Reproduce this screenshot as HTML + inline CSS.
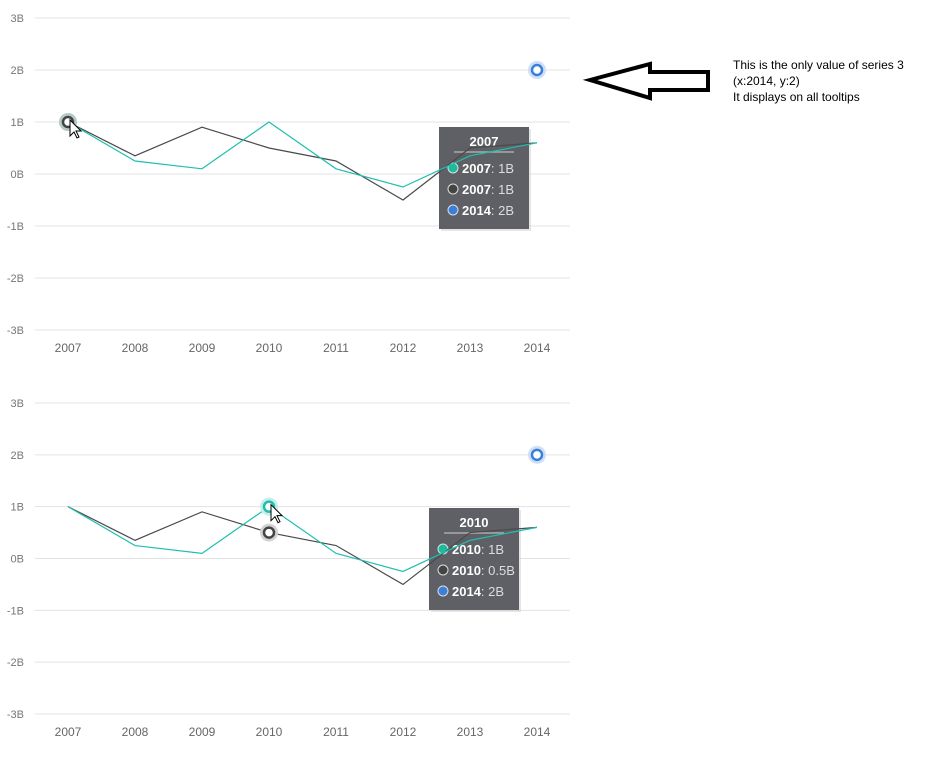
<!DOCTYPE html>
<html><head><meta charset="utf-8"><style>
body{margin:0;background:#fff;width:951px;height:767px;overflow:hidden;font-family:"Liberation Sans",sans-serif}
svg{position:absolute;left:0;top:0}
</style></head><body>
<svg id="s" width="951" height="767"></svg>
<script>
const years=[2007,2008,2009,2010,2011,2012,2013,2014];
const series1=[1,0.25,0.1,1,0.1,-0.25,0.35,0.6];
const series2=[1,0.35,0.9,0.5,0.25,-0.5,0.5,0.6];
const series3Year=2014, series3Val=2;
const ticks=[3,2,1,0,-1,-2,-3];
const tickLabels=['3B','2B','1B','0B','-1B','-2B','-3B'];
const NS='http://www.w3.org/2000/svg';
const s=document.getElementById('s');
function el(t,a,p){const e=document.createElementNS(NS,t);for(const k in a)e.setAttribute(k,a[k]);(p||s).appendChild(e);return e;}
const charts=[
 {top:18,bottom:330,xlab:347,hover:0,tip:{x:439,y:127,title:'2007',rows:[['#1abc9c','2007','1B'],['#444','2007','1B'],['#3a7fd8','2014','2B']]}},
 {top:403,bottom:714,xlab:731,hover:3,tip:{x:429,y:508,title:'2010',rows:[['#1abc9c','2010','1B'],['#444','2010','0.5B'],['#3a7fd8','2014','2B']]}}
];
charts.forEach((c,ci)=>{
 const g=el('g',{});
 
 
 const X=i=>68+i*67;
 const Xy=yr=>X(years.indexOf(yr));
 const Y=v=>c.top+(3-v)*(c.bottom-c.top)/6;
 ticks.forEach((t,i)=>{
  const l=el('line',{x1:35,x2:570,y1:Y(t),y2:Y(t),stroke:'#e3e3e3','stroke-width':1},g);
  
  
  const tx=el('text',{x:24,y:Y(t)+4,'text-anchor':'end','font-size':11,fill:'#777'},g);
  tx.textContent=tickLabels[i];
  
  
 });
 years.forEach((yr,i)=>{
  const tx=el('text',{x:X(i),y:c.xlab+5,'text-anchor':'middle','font-size':12,fill:'#666'},g);
  tx.textContent=yr;
  
  
 });
 // tooltip
 const t=c.tip;
 const tg=el('g',{},g);
 
 
 el('rect',{x:t.x+2,y:t.y+2,width:90,height:102,fill:'#ccc',opacity:0.5},tg);
 el('rect',{x:t.x,y:t.y,width:90,height:102,fill:'#5f5f66'},tg);
 const tt=el('text',{x:t.x+45,y:t.y+19,'text-anchor':'middle','font-size':13,'font-weight':'bold',fill:'#fff'},tg);
 tt.textContent=t.title;
 el('line',{x1:t.x+15,x2:t.x+75,y1:t.y+25,y2:t.y+25,stroke:'#aaa','stroke-width':1.5},tg);
 t.rows.forEach((r,i)=>{
  const cy=t.y+41+i*21;
  el('circle',{cx:t.x+14,cy:cy,r:5,fill:r[0],stroke:'#ddd','stroke-width':1},tg);
  const rt=el('text',{x:t.x+23,y:cy+5,'font-size':13,fill:'#fff'},tg);
  rt.innerHTML='<tspan font-weight="bold">'+r[1]+'</tspan><tspan fill="#ddd">: '+r[2]+'</tspan>';
 });
 // lines
 const mk=(data,col,name)=>{
  const p=el('polyline',{points:data.map((v,i)=>X(i)+','+Y(v)).join(' '),fill:'none',stroke:col,'stroke-width':1.2},g);
  
  
 };
 mk(series2,'#4a4a4a','series-2-line');
 mk(series1,'#1fbfb0','series-1-line');
 // series 3 point
 const p3x=Xy(series3Year),p3y=Y(series3Val);
 el('circle',{cx:p3x,cy:p3y,r:9,fill:'#cfe0f6'},g);
 const p3=el('circle',{cx:p3x,cy:p3y,r:5,fill:'#fff',stroke:'#3a7fd8','stroke-width':2.5},g);
 
 
 // hover markers
 const h=c.hover;
 if(ci===0){
  el('circle',{cx:X(h),cy:Y(series2[h]),r:9,fill:'#b5c9c6'},g);
  const m=el('circle',{cx:X(h),cy:Y(series2[h]),r:5,fill:'#fff',stroke:'#444','stroke-width':2.5},g);
  
  
 } else {
  el('circle',{cx:X(h),cy:Y(series1[h]),r:9,fill:'#c5eee9'},g);
  const m1=el('circle',{cx:X(h),cy:Y(series1[h]),r:5,fill:'#fff',stroke:'#1fbfb0','stroke-width':2.5},g);
  
  
  el('circle',{cx:X(h),cy:Y(series2[h]),r:9,fill:'#d2d2d2'},g);
  const m2=el('circle',{cx:X(h),cy:Y(series2[h]),r:5,fill:'#fff',stroke:'#444','stroke-width':2.5},g);
  
  
 }
 // cursor
 const cx=X(h)+2,cy=Y(series1[h])-2;
 const cur=el('path',{d:`M${cx} ${cy} l0 16 l4 -4 l3 6 l2 -1 l-3 -6 l5 0 z`,fill:'#fff',stroke:'#000','stroke-width':1},g);
 
 
});
// annotation arrow
const ar=el('path',{d:'M590 80 L650 64 L650 72 L708 72 L708 90 L650 90 L650 98 Z',fill:'#fff',stroke:'#000','stroke-width':4,'stroke-linejoin':'miter'});


['This is the only value of series 3','(x:2014, y:2)','It displays on all tooltips'].forEach((line,i)=>{
 const t=el('text',{x:733,y:69+i*16,'font-size':12,fill:'#000'});
 t.textContent=line;
 
 
});
</script>
</body></html>
